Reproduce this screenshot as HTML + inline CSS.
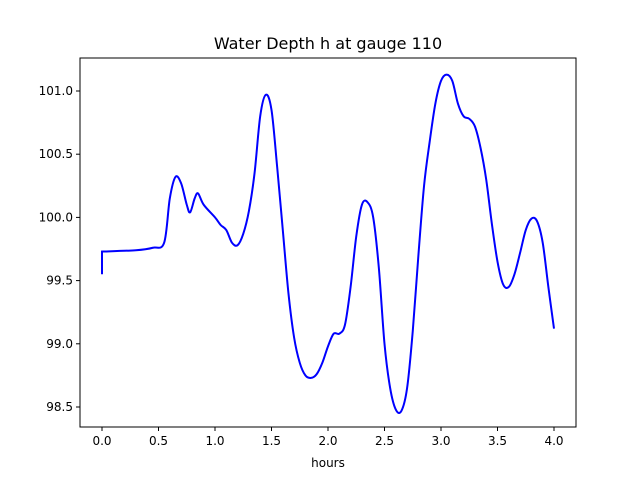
<!DOCTYPE html>
<html><head><meta charset="utf-8"><style>
body{margin:0;background:#fff;}
svg text{font-family:"DejaVu Sans","Liberation Sans",sans-serif;}
</style></head><body>
<svg id="chart" width="640" height="480" xmlns="http://www.w3.org/2000/svg">
<rect width="640" height="480" fill="#fff"/>
<text x="328" y="49" font-size="16" text-anchor="middle">Water Depth h at gauge 110</text>
<g id="axes"></g>
<path id="line" fill="none" stroke="#0000ff" stroke-width="2"/>
<rect x="80" y="58" width="496" height="369" fill="none" stroke="#000" stroke-width="1"/>
<text x="328" y="467" font-size="12" text-anchor="middle">hours</text>
</svg>
<script>
const times=[0,0,0.3,0.45,0.55,0.6,0.65,0.7,0.75,0.78,0.82,0.85,0.9,1.0,1.05,1.1,1.15,1.2,1.25,1.3,1.35,1.4,1.45,1.5,1.55,1.6,1.65,1.7,1.75,1.8,1.85,1.9,1.95,2.0,2.05,2.1,2.15,2.2,2.25,2.3,2.35,2.4,2.45,2.5,2.55,2.6,2.65,2.7,2.75,2.8,2.85,2.9,2.95,3.0,3.05,3.1,3.15,3.2,3.25,3.3,3.35,3.4,3.45,3.5,3.55,3.6,3.65,3.7,3.75,3.8,3.85,3.9,3.95,4.0];
const depths=[99.55,99.73,99.74,99.76,99.8,100.15,100.32,100.27,100.1,100.04,100.15,100.19,100.1,100.0,99.94,99.9,99.8,99.78,99.87,100.05,100.35,100.8,100.97,100.85,100.4,99.9,99.4,99.05,98.85,98.75,98.73,98.76,98.85,98.98,99.08,99.08,99.15,99.45,99.85,100.1,100.12,100.0,99.6,99.0,98.65,98.48,98.47,98.65,99.1,99.7,100.25,100.6,100.9,101.08,101.13,101.08,100.9,100.8,100.78,100.72,100.55,100.3,99.95,99.65,99.47,99.45,99.55,99.72,99.9,99.99,99.97,99.8,99.45,99.12];
const xTicks=[0,0.5,1,1.5,2,2.5,3,3.5,4];
const xTickLabels=["0.0","0.5","1.0","1.5","2.0","2.5","3.0","3.5","4.0"];
const yTicks=[98.5,99,99.5,100,100.5,101];
const yTickLabels=["98.5","99.0","99.5","100.0","100.5","101.0"];
const X=v=>102+v*113;
const Y=v=>407-(v-98.5)*126.4;
const ns="http://www.w3.org/2000/svg";
const ax=document.getElementById('axes');
function mk(t,a){const e=document.createElementNS(ns,t);for(const k in a)e.setAttribute(k,a[k]);ax.appendChild(e);return e;}
xTicks.forEach((v,i)=>{
 const l=mk('line',{x1:X(v),x2:X(v),y1:427,y2:431,stroke:'#000'});
 
 
 const t=mk('text',{x:X(v),y:445,'font-size':12,'text-anchor':'middle'});t.textContent=xTickLabels[i];
 
 
});
yTicks.forEach((v,i)=>{
 const l=mk('line',{x1:76,x2:80,y1:Y(v),y2:Y(v),stroke:'#000'});
 
 
 const t=mk('text',{x:73,y:Y(v)+4,'font-size':12,'text-anchor':'end'});t.textContent=yTickLabels[i];
 
 
});
const pts=times.map((t,i)=>[X(t),Y(depths[i])]);
let d='M'+pts[0][0]+','+pts[0][1]+' L'+pts[1][0]+','+pts[1][1];
for(let i=1;i<pts.length-1;i++){
 const p0=pts[Math.max(i-1,1)],p1=pts[i],p2=pts[i+1],p3=pts[Math.min(i+2,pts.length-1)];
 const c1=[p1[0]+(p2[0]-p0[0])/6,p1[1]+(p2[1]-p0[1])/6];
 const c2=[p2[0]-(p3[0]-p1[0])/6,p2[1]-(p3[1]-p1[1])/6];
 d+=' C'+c1[0]+','+c1[1]+' '+c2[0]+','+c2[1]+' '+p2[0]+','+p2[1];
}
document.getElementById('line').setAttribute('d',d);
</script>
</body></html>
